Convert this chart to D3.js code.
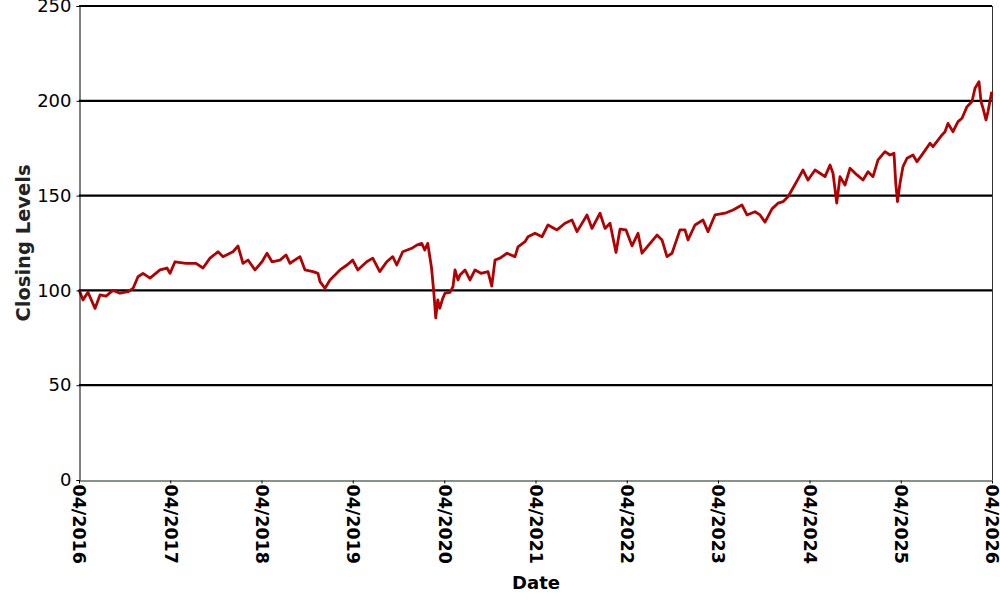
<!DOCTYPE html>
<html>
<head>
<meta charset="utf-8">
<script src="https://cdn.jsdelivr.net/npm/d3@7"></script>
<style>
  html, body { margin: 0; padding: 0; background: #ffffff; }
  svg { display: block; font-family: "DejaVu Sans", sans-serif; }
</style>
</head>
<body>
<svg id="chart" width="1000" height="600"></svg>
<script>
const dates = [
  "2016-04-01","2016-04-17","2016-05-07","2016-06-04","2016-06-24","2016-07-18","2016-08-15","2016-09-12",
  "2016-10-14","2016-11-03","2016-11-23","2016-12-13","2017-01-10","2017-02-19","2017-03-19","2017-03-31",
  "2017-04-20","2017-06-03","2017-07-13","2017-08-10","2017-09-07","2017-10-09","2017-10-29","2017-12-08",
  "2017-12-28","2018-01-17","2018-02-06","2018-03-06","2018-04-03","2018-04-23","2018-05-13","2018-06-14",
  "2018-07-08","2018-07-24","2018-09-02","2018-09-22","2018-10-24","2018-11-13","2018-11-21","2018-12-11",
  "2018-12-31","2019-02-09","2019-03-09","2019-04-01","2019-04-21","2019-05-27","2019-06-20","2019-07-18",
  "2019-08-15","2019-09-08","2019-09-24","2019-10-18","2019-11-23","2019-12-13","2020-01-02","2020-01-14",
  "2020-01-26","2020-02-10","2020-02-19","2020-02-27","2020-03-06","2020-03-14","2020-03-26","2020-04-04",
  "2020-04-24","2020-05-06","2020-05-14","2020-05-26","2020-06-03","2020-06-23","2020-07-13","2020-08-02",
  "2020-08-26","2020-09-23","2020-10-08","2020-10-21","2020-11-10","2020-12-08","2021-01-09","2021-01-21",
  "2021-02-18","2021-03-02","2021-03-30","2021-04-27","2021-05-21","2021-06-26","2021-07-28","2021-08-25",
  "2021-09-14","2021-10-24","2021-11-13","2021-12-15","2022-01-04","2022-01-24","2022-02-17","2022-03-05",
  "2022-03-29","2022-04-22","2022-05-16","2022-06-01","2022-06-25","2022-07-31","2022-08-20","2022-09-09",
  "2022-09-29","2022-10-31","2022-11-20","2022-12-02","2022-12-30","2023-01-31","2023-02-20","2023-03-20",
  "2023-04-29","2023-05-31","2023-07-06","2023-07-26","2023-08-27","2023-09-16","2023-10-06","2023-11-03",
  "2023-11-27","2023-12-17","2024-01-06","2024-01-26","2024-02-15","2024-03-06","2024-03-26","2024-04-23",
  "2024-05-13","2024-06-02","2024-06-22","2024-07-04","2024-07-19","2024-08-01","2024-08-21","2024-09-10",
  "2024-10-08","2024-11-01","2024-11-21","2024-12-11","2024-12-31","2025-01-28","2025-02-17","2025-03-05",
  "2025-03-12","2025-03-19","2025-03-29","2025-04-10","2025-04-26","2025-05-20","2025-06-05","2025-06-29",
  "2025-07-27","2025-08-08","2025-09-13","2025-09-25","2025-10-07","2025-10-27","2025-11-16","2025-12-02",
  "2025-12-22","2026-01-11","2026-01-23","2026-02-08","2026-02-16","2026-02-24","2026-03-08","2026-03-16",
  "2026-03-31"
];
const closes = [
  100.5, 95.0, 99.0, 90.5, 97.6, 97.0, 100.0, 98.5,
  99.3, 101.0, 107.2, 109.0, 106.5, 110.8, 111.8, 109.0,
  115.1, 114.3, 114.3, 111.8, 117.0, 120.4, 117.8, 120.4,
  123.4, 114.3, 116.0, 110.8, 115.1, 119.6, 115.1, 116.0,
  118.7, 114.3, 117.8, 110.8, 109.9, 109.0, 104.6, 101.1,
  105.5, 110.8, 113.4, 116.0, 110.8, 115.1, 117.0, 109.9,
  115.1, 117.8, 113.4, 120.4, 122.2, 123.9, 124.8, 121.3,
  124.8, 112.0, 99.3, 85.5, 95.0, 90.6, 95.8, 98.5,
  99.0, 102.0, 110.8, 105.5, 108.1, 110.8, 105.5, 110.8,
  109.0, 109.9, 102.3, 116.0, 117.0, 119.6, 117.8, 123.0,
  125.7, 128.3, 130.1, 128.3, 134.5, 131.9, 135.4, 137.1,
  131.0, 139.8, 132.7, 140.7, 132.7, 135.4, 120.0, 132.3,
  131.9, 123.5, 130.1, 119.6, 123.5, 129.2, 126.6, 117.8,
  119.6, 131.9, 131.9, 126.6, 134.5, 137.1, 131.0, 139.8,
  140.7, 142.4, 145.0, 139.8, 141.5, 139.8, 136.0, 143.0,
  146.0, 146.8, 149.4, 154.0, 158.7, 163.5, 158.2, 163.5,
  161.8, 160.0, 166.1, 161.8, 146.0, 160.0, 155.6, 164.4,
  160.9, 158.2, 162.6, 160.0, 168.8, 173.2, 171.4, 172.3,
  156.5, 146.8, 156.5, 165.3, 169.7, 171.4, 167.9, 172.3,
  177.6, 175.8, 182.0, 183.7, 188.1, 183.7, 189.0, 190.8,
  196.9, 199.6, 206.6, 210.1, 199.6, 196.1, 189.9, 194.3,
  204.8
];
const yTicks = [0, 50, 100, 150, 200, 250];
const xTickDates = ["2016-04-01","2017-04-01","2018-04-01","2019-04-01","2020-04-01",
                    "2021-04-01","2022-04-01","2023-04-01","2024-04-01","2025-04-01","2026-04-01"];
const yTitle = "Closing Levels";
const xTitle = "Date";

const parse = d3.timeParse("%Y-%m-%d");
const fmt = d3.timeFormat("%m/%Y");
const data = dates.map((d, i) => ({ date: parse(d), value: closes[i] }));

const mLeft = 79, mRight = 992, mTop = 6, mBottom = 480;
const svg = d3.select("#chart");

const x = d3.scaleTime().domain([parse(xTickDates[0]), parse(xTickDates[xTickDates.length - 1])]).range([mLeft, mRight]);
const y = d3.scaleLinear().domain([0, 250]).range([mBottom, mTop]);

// gridlines
svg.append("g").selectAll("line").data(yTicks.filter(t => t > 0)).join("line")
  .attr("x1", mLeft).attr("x2", mRight)
  .attr("y1", d => y(d)).attr("y2", d => y(d))
  .attr("stroke", "#000").attr("stroke-width", 2.2);

// right border
svg.append("line").attr("x1", mRight + 0.5).attr("x2", mRight + 0.5)
  .attr("y1", mTop).attr("y2", mBottom).attr("stroke", "#333").attr("stroke-width", 1);

// line
const line = d3.line().x(d => x(d.date)).y(d => y(d.value));
svg.append("path").datum(data)
  .attr("fill", "none").attr("stroke", "#b30000").attr("stroke-width", 2.8)
  .attr("stroke-linejoin", "round").attr("d", line);

// y axis
const yAxis = svg.append("g").attr("transform", `translate(${mLeft + 0.5},0)`)
  .call(d3.axisLeft(y).tickValues(yTicks).tickSize(3).tickPadding(5));
yAxis.select(".domain").attr("stroke", "#000");
yAxis.selectAll("text").attr("font-size", 18).attr("fill", "#000").attr("font-family", "DejaVu Sans");

// x axis
const xAxis = svg.append("g").attr("transform", `translate(0,${mBottom + 0.5})`)
  .call(d3.axisBottom(x).tickValues(xTickDates.map(parse)).tickFormat(fmt).tickSize(3).tickSizeOuter(0));
xAxis.select(".domain").attr("stroke", "#0b2a0b");
xAxis.selectAll("text")
  .attr("font-size", 17.5).attr("font-weight", "bold").attr("fill", "#000")
  .attr("font-family", "DejaVu Sans")
  .attr("text-anchor", "start")
  .attr("transform", "rotate(90)")
  .attr("x", 4).attr("y", 0).attr("dy", "0.35em");

// titles
svg.append("text").attr("transform", `translate(30,${(mTop + mBottom) / 2}) rotate(-90)`)
  .attr("text-anchor", "middle").attr("font-size", 19.5).attr("font-weight", "bold")
  .attr("fill", "#222").text(yTitle);
svg.append("text").attr("x", 536).attr("y", 589)
  .attr("text-anchor", "middle").attr("font-size", 18).attr("font-weight", "bold")
  .attr("fill", "#000").text(xTitle);
</script>
</body>
</html>
